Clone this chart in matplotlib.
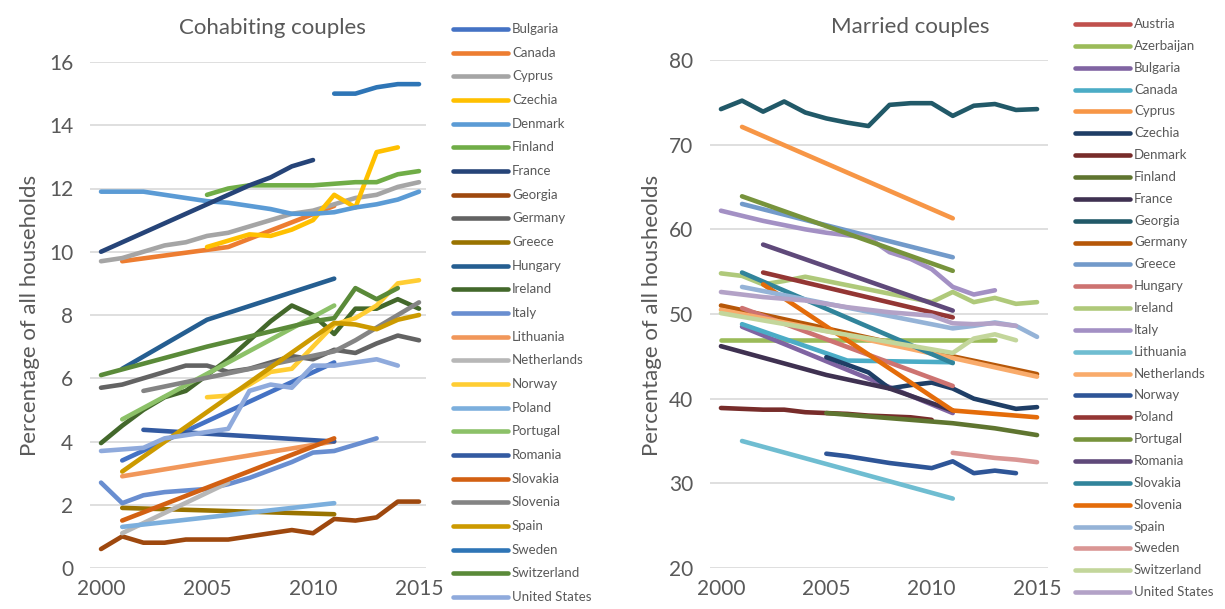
"""Cohabiting vs married couples, share of all households, 2000-2015."""
import numpy as np
import matplotlib
matplotlib.use("Agg")
import matplotlib.pyplot as plt
from matplotlib.lines import Line2D

plt.rcParams.update({
    "font.family": ["Lato", "DejaVu Sans"],
    "text.color": "#595959",
})

YEARS = list(range(2000, 2016))
n = None  # gap (no observation)

# ---------------- Cohabiting couples (%) ----------------
COHAB_COUNTRIES = ["Bulgaria", "Canada", "Cyprus", "Czechia", "Denmark", "Finland",
                   "France", "Georgia", "Germany", "Greece", "Hungary", "Ireland",
                   "Italy", "Lithuania", "Netherlands", "Norway", "Poland", "Portugal",
                   "Romania", "Slovakia", "Slovenia", "Spain", "Sweden", "Switzerland",
                   "United States"]
COHAB_VALUES = [
    #2000 2001 2002 2003 2004 2005 2006 2007 2008 2009 2010 2011 2012 2013 2014 2015
    [n, 3.4, n, n, n, n, n, n, n, n, n, 6.5, n, n, n, n],                                   # Bulgaria
    [n, 9.7, n, n, n, n, 10.15, n, n, n, n, 11.45, n, n, n, n],                             # Canada
    [9.7, 9.8, 10.0, 10.2, 10.3, 10.5, 10.6, 10.8, 11.0, 11.2, 11.3, 11.5, 11.7, 11.8, 12.05, 12.2],  # Cyprus
    [n, n, n, n, n, 10.15, 10.35, 10.55, 10.5, 10.7, 11.0, 11.8, 11.4, 13.15, 13.3, n],    # Czechia
    [11.9, 11.9, 11.9, 11.8, 11.7, 11.6, 11.55, 11.45, 11.35, 11.2, 11.2, 11.25, 11.4, 11.5, 11.65, 11.9],  # Denmark
    [n, n, n, n, n, 11.8, 12.0, 12.1, 12.1, 12.1, 12.1, 12.15, 12.2, 12.2, 12.45, 12.55],  # Finland
    [10.0, 10.3, 10.6, 10.9, 11.2, 11.5, 11.8, 12.1, 12.35, 12.7, 12.9, n, n, n, n, n],    # France
    [0.6, 1.0, 0.8, 0.8, 0.9, 0.9, 0.9, 1.0, 1.1, 1.2, 1.1, 1.55, 1.5, 1.6, 2.1, 2.1],     # Georgia
    [5.7, 5.8, 6.0, 6.2, 6.4, 6.4, 6.2, 6.3, 6.5, 6.7, 6.6, 6.9, 6.8, 7.1, 7.35, 7.2],     # Germany
    [n, 1.9, n, n, n, n, n, n, n, n, n, 1.7, n, n, n, n],                                   # Greece
    [n, 6.3, n, n, n, 7.85, n, n, n, n, n, 9.15, n, n, n, n],                               # Hungary
    [3.95, 4.5, 5.0, 5.4, 5.6, 6.1, 6.6, 7.2, 7.8, 8.3, 8.0, 7.4, 8.2, 8.2, 8.5, 8.2],     # Ireland
    [2.7, 2.05, 2.3, 2.4, 2.45, 2.5, 2.65, 2.85, 3.1, 3.35, 3.65, 3.7, 3.9, 4.1, n, n],   # Italy
    [n, 2.9, n, n, n, n, n, n, n, n, n, 4.0, n, n, n, n],                                   # Lithuania
    [n, 1.1, n, n, n, n, 2.7, n, n, n, n, n, n, n, n, n],                                   # Netherlands
    [n, n, n, n, n, 5.4, 5.45, 5.8, 6.2, 6.3, 7.0, 7.7, 7.9, 8.3, 9.0, 9.1],               # Norway
    [n, 1.3, n, n, n, n, n, n, n, n, n, 2.05, n, n, n, n],                                  # Poland
    [n, 4.7, n, n, n, n, n, n, n, n, n, 8.3, n, n, n, n],                                   # Portugal
    [n, n, 4.37, n, n, n, n, n, n, n, n, 4.0, n, n, n, n],                                  # Romania
    [n, 1.5, n, n, n, n, n, n, n, n, n, 4.1, n, n, n, n],                                   # Slovakia
    [n, n, 5.6, n, n, n, n, n, n, n, n, 6.85, 7.2, 7.6, 8.0, 8.4],                          # Slovenia
    [n, 3.05, n, n, n, n, n, n, n, n, n, 7.75, 7.7, 7.55, 7.85, 8.0],                       # Spain
    [n, n, n, n, n, n, n, n, n, n, n, 15.0, 15.0, 15.2, 15.3, 15.3],                        # Sweden
    [6.1, n, n, n, n, 7.0, n, n, n, n, 7.8, 7.9, 8.85, 8.5, 8.85, n],                       # Switzerland
    [3.7, 3.75, 3.8, 4.1, 4.2, 4.3, 4.4, 5.6, 5.8, 5.7, 6.4, 6.4, 6.5, 6.6, 6.4, n],       # United States
]
COHAB_COLORS = ["#4472C4", "#ED7D31", "#A5A5A5", "#FFC000", "#5B9BD5", "#70AD47",
                "#264478", "#9E480E", "#636363", "#997300", "#255E91", "#43682B",
                "#698ED0", "#F1975A", "#B7B7B7", "#FFCD33", "#7CAFDD", "#8CC168",
                "#335AA1", "#D26012", "#848484", "#CC9A00", "#2E75B6", "#5A8A39",
                "#8FAADC"]

# ---------------- Married couples (%) ----------------
MARR_COUNTRIES = ["Austria", "Azerbaijan", "Bulgaria", "Canada", "Cyprus", "Czechia",
                  "Denmark", "Finland", "France", "Georgia", "Germany", "Greece",
                  "Hungary", "Ireland", "Italy", "Lithuania", "Netherlands", "Norway",
                  "Poland", "Portugal", "Romania", "Slovakia", "Slovenia", "Spain",
                  "Sweden", "Switzerland", "United States"]
MARR_VALUES = [
    #2000 2001 2002 2003 2004 2005 2006 2007 2008 2009 2010 2011 2012 2013 2014 2015
    [n, n, n, n, n, n, n, n, n, n, n, n, n, n, n, n],                                       # Austria
    [46.9, n, n, n, n, n, n, n, n, n, n, n, n, 46.9, n, n],                                 # Azerbaijan
    [n, 48.5, n, n, n, n, n, n, n, n, n, 38.3, n, n, n, n],                                 # Bulgaria
    [n, 48.8, n, n, n, n, 44.5, n, n, n, n, 44.3, n, n, n, n],                              # Canada
    [n, 72.1, n, n, n, n, n, n, n, n, n, 61.3, n, n, n, n],                                 # Cyprus
    [n, n, n, n, n, 44.9, 44.0, 43.1, 41.2, 41.6, 41.9, 41.2, 40.0, 39.4, 38.8, 39.0],     # Czechia
    [38.9, 38.8, 38.7, 38.7, 38.4, 38.3, 38.2, 38.0, 37.9, 37.8, 37.5, n, n, n, n, n],     # Denmark
    [n, n, n, n, n, 38.3, 38.1, 37.9, 37.7, 37.5, 37.3, 37.1, 36.8, 36.5, 36.1, 35.7],     # Finland
    [46.2, n, n, n, n, 42.8, n, n, 41.2, n, n, 38.6, n, n, n, n],                          # France
    [74.2, 75.2, 73.9, 75.1, 73.8, 73.1, 72.6, 72.2, 74.7, 74.9, 74.9, 73.4, 74.6, 74.8, 74.1, 74.2],  # Georgia
    [51.0, n, n, n, n, 48.3, n, n, n, n, n, 45.0, n, n, n, 42.9],                           # Germany
    [n, 63.0, n, n, n, n, n, n, n, n, n, 56.7, n, n, n, n],                                 # Greece
    [n, 50.7, n, n, n, n, n, n, n, n, n, 41.5, n, n, n, n],                                 # Hungary
    [54.8, 54.5, 53.5, 53.9, 54.4, n, n, n, n, n, 51.4, 52.6, 51.4, 51.9, 51.2, 51.4],     # Ireland
    [62.2, 61.6, 61.0, 60.5, 60.0, 59.6, 59.3, 59.0, 57.3, 56.5, 55.3, 53.2, 52.3, 52.8, n, n],  # Italy
    [n, 35.0, n, n, n, n, n, n, n, n, n, 28.2, n, n, n, n],                                 # Lithuania
    [50.5, n, n, n, n, 48.0, n, n, n, n, n, 44.8, n, n, n, 42.6],                           # Netherlands
    [n, n, n, n, n, 33.5, 33.2, 32.8, 32.4, 32.1, 31.8, 32.6, 31.2, 31.5, 31.2, n],        # Norway
    [n, n, 54.9, n, n, n, n, n, n, n, n, 49.6, n, n, n, n],                                 # Poland
    [n, 63.9, n, n, n, n, n, n, n, n, n, 55.1, n, n, n, n],                                 # Portugal
    [n, n, 58.2, n, n, n, n, n, n, n, n, 50.4, n, n, n, n],                                 # Romania
    [n, 54.9, n, n, n, n, n, n, n, n, n, 44.2, n, n, n, n],                                 # Slovakia
    [n, n, 53.5, n, n, n, n, n, n, n, n, 38.6, 38.4, 38.2, 38.0, 37.8],                     # Slovenia
    [n, 53.2, n, n, n, n, n, n, n, n, n, 48.3, 48.6, 49.0, 48.6, 47.3],                     # Spain
    [n, n, n, n, n, n, n, n, n, n, n, 33.6, 33.3, 33.0, 32.8, 32.5],                        # Sweden
    [50.1, n, n, n, n, n, n, n, n, n, n, 45.4, 47.1, 47.6, 46.9, n],                        # Switzerland
    [52.6, n, 52.0, n, 51.6, n, 50.8, n, 50.2, n, 49.8, 48.9, 48.8, 48.9, 48.6, n],        # United States
]
MARR_COLORS = ["#C0504D", "#9BBB59", "#8064A2", "#4BACC6", "#F79646", "#1F3E66",
               "#772C2A", "#5F7530", "#3F3151", "#215968", "#B65708", "#729ACA",
               "#CD7371", "#AFC97A", "#A390C4", "#6FBDD1", "#F9AB6B", "#2E5597",
               "#943634", "#77933C", "#5F497A", "#31849B", "#E46C0A", "#95B3D7",
               "#DA9694", "#C3D69B", "#B3A2C7"]

XTICKS = [2000, 2005, 2010, 2015]
COHAB_YTICKS = [0, 2, 4, 6, 8, 10, 12, 14, 16]
MARR_YTICKS = [20, 30, 40, 50, 60, 70, 80]

W, H = 1225, 609
TXT = "#595959"


def fx(x):
    return x / W


def fy(y):
    return 1 - y / H


def panel(fig, box, countries, values, colors, yticks, title, title_xy, ylabel, ylabel_xy,
          xlim, legend_x, legend_y0, legend_dy):
    l, t, r, b = box
    ax = fig.add_axes([fx(l), fy(b), fx(r) - fx(l), fy(t) - fy(b)])
    yrs = np.array(YEARS)
    # gaps are bridged, like Excel's "connect data points with line"
    for vals, col in zip(values, colors):
        v = np.array([np.nan if a is None else a for a in vals], dtype=float)
        m = ~np.isnan(v)
        ax.plot(yrs[m], v[m], color=col, linewidth=3.3, solid_capstyle="round",
                solid_joinstyle="round", zorder=3)
    ax.set_xlim(*xlim)
    ax.set_ylim(yticks[0], yticks[-1])
    ax.set_xticks(XTICKS)
    ax.set_yticks(yticks)
    ax.tick_params(length=0, labelsize=15, colors=TXT, pad=12)
    ax.tick_params(axis="x", pad=8)
    ax.grid(axis="y", color="#D9D9D9", linewidth=1.2)
    ax.set_axisbelow(True)
    for s in ax.spines.values():
        s.set_visible(False)
    ax.patch.set_alpha(0)

    fig.text(fx(title_xy[0]), fy(title_xy[1]), title, fontsize=16, color=TXT,
             ha="center", va="center")
    fig.text(fx(ylabel_xy[0]), fy(ylabel_xy[1]), ylabel, fontsize=16, color=TXT,
             ha="center", va="center", rotation=90)

    # legend, one entry per series
    for i, (name, col) in enumerate(zip(countries, colors)):
        y = legend_y0 + i * legend_dy
        fig.add_artist(Line2D([fx(legend_x), fx(legend_x + 55)], [fy(y), fy(y)],
                              color=col, linewidth=3.3, solid_capstyle="round",
                              transform=fig.transFigure))
        fig.text(fx(legend_x + 59), fy(y), name, fontsize=9.5, color=TXT,
                 ha="left", va="center")
    return ax


fig = plt.figure(figsize=(W / 100, H / 100), dpi=100)

panel(fig, (90, 62, 426, 568), COHAB_COUNTRIES, COHAB_VALUES, COHAB_COLORS,
      COHAB_YTICKS, "Cohabiting couples", (272, 28), "Percentage of all households",
      (30, 315), (1999.48, 2015.33), 453, 29, 23.67)

panel(fig, (710, 60, 1048, 568), MARR_COUNTRIES, MARR_VALUES, MARR_COLORS,
      MARR_YTICKS, "Married couples", (910, 27), "Percentage of all housheolds",
      (652, 315), (1999.48, 2015.52), 1075, 24, 21.85)

fig.savefig("out.png", dpi=100)
